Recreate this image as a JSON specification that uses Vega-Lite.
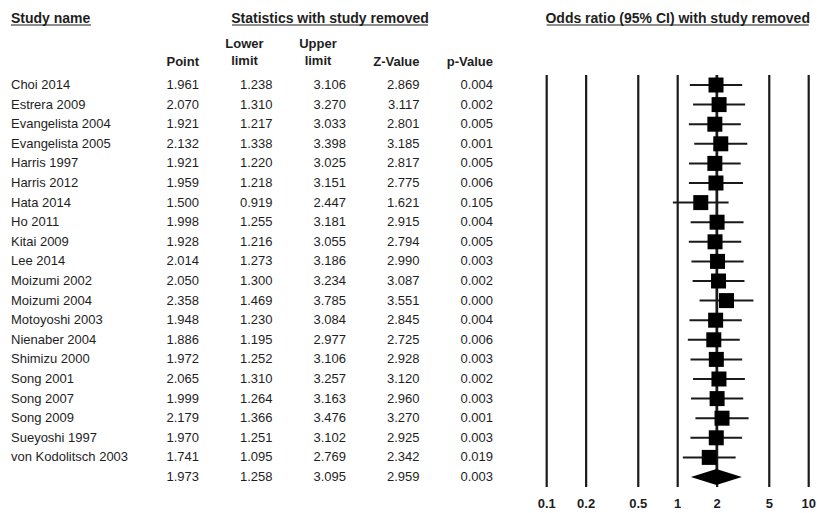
{
  "$schema": "https://vega.github.io/schema/vega-lite/v6.json",
  "width": 817,
  "height": 513,
  "padding": 0,
  "background": "white",
  "config": {
    "view": {"stroke": null},
    "text": {"font": "Liberation Sans", "fontSize": 13, "color": "#1e1e1e"}
  },
  "datasets": {
    "studies": [
      {"row": 1, "kind": "study", "study": "Choi 2014", "point": 1.961, "lower": 1.238, "upper": 3.106, "z": 2.869, "p": 0.004},
      {"row": 2, "kind": "study", "study": "Estrera 2009", "point": 2.070, "lower": 1.310, "upper": 3.270, "z": 3.117, "p": 0.002},
      {"row": 3, "kind": "study", "study": "Evangelista 2004", "point": 1.921, "lower": 1.217, "upper": 3.033, "z": 2.801, "p": 0.005},
      {"row": 4, "kind": "study", "study": "Evangelista 2005", "point": 2.132, "lower": 1.338, "upper": 3.398, "z": 3.185, "p": 0.001},
      {"row": 5, "kind": "study", "study": "Harris 1997", "point": 1.921, "lower": 1.220, "upper": 3.025, "z": 2.817, "p": 0.005},
      {"row": 6, "kind": "study", "study": "Harris 2012", "point": 1.959, "lower": 1.218, "upper": 3.151, "z": 2.775, "p": 0.006},
      {"row": 7, "kind": "study", "study": "Hata 2014", "point": 1.500, "lower": 0.919, "upper": 2.447, "z": 1.621, "p": 0.105},
      {"row": 8, "kind": "study", "study": "Ho 2011", "point": 1.998, "lower": 1.255, "upper": 3.181, "z": 2.915, "p": 0.004},
      {"row": 9, "kind": "study", "study": "Kitai 2009", "point": 1.928, "lower": 1.216, "upper": 3.055, "z": 2.794, "p": 0.005},
      {"row": 10, "kind": "study", "study": "Lee 2014", "point": 2.014, "lower": 1.273, "upper": 3.186, "z": 2.990, "p": 0.003},
      {"row": 11, "kind": "study", "study": "Moizumi 2002", "point": 2.050, "lower": 1.300, "upper": 3.234, "z": 3.087, "p": 0.002},
      {"row": 12, "kind": "study", "study": "Moizumi 2004", "point": 2.358, "lower": 1.469, "upper": 3.785, "z": 3.551, "p": 0.000},
      {"row": 13, "kind": "study", "study": "Motoyoshi 2003", "point": 1.948, "lower": 1.230, "upper": 3.084, "z": 2.845, "p": 0.004},
      {"row": 14, "kind": "study", "study": "Nienaber 2004", "point": 1.886, "lower": 1.195, "upper": 2.977, "z": 2.725, "p": 0.006},
      {"row": 15, "kind": "study", "study": "Shimizu 2000", "point": 1.972, "lower": 1.252, "upper": 3.106, "z": 2.928, "p": 0.003},
      {"row": 16, "kind": "study", "study": "Song 2001", "point": 2.065, "lower": 1.310, "upper": 3.257, "z": 3.120, "p": 0.002},
      {"row": 17, "kind": "study", "study": "Song 2007", "point": 1.999, "lower": 1.264, "upper": 3.163, "z": 2.960, "p": 0.003},
      {"row": 18, "kind": "study", "study": "Song 2009", "point": 2.179, "lower": 1.366, "upper": 3.476, "z": 3.270, "p": 0.001},
      {"row": 19, "kind": "study", "study": "Sueyoshi 1997", "point": 1.970, "lower": 1.251, "upper": 3.102, "z": 2.925, "p": 0.003},
      {"row": 20, "kind": "study", "study": "von  Kodolitsch 2003", "point": 1.741, "lower": 1.095, "upper": 2.769, "z": 2.342, "p": 0.019},
      {"row": 21, "kind": "summary", "study": "", "point": 1.973, "lower": 1.258, "upper": 3.095, "z": 2.959, "p": 0.003}
    ],
    "ticks": [
      {"or": 0.1, "label": "0.1"},
      {"or": 0.2, "label": "0.2"},
      {"or": 0.5, "label": "0.5"},
      {"or": 1, "label": "1"},
      {"or": 2, "label": "2"},
      {"or": 5, "label": "5"},
      {"or": 10, "label": "10"}
    ]
  },
  "resolve": {"scale": {"x": "independent"}},
  "layer": [
    {
      "data": {"name": "studies"},
      "mark": {"type": "text", "align": "left", "baseline": "middle"},
      "encoding": {
        "x": {"field": "kind", "type": "nominal", "scale": {"type": "point", "domain": ["study", "summary"], "range": [11, 11]}, "axis": null},
        "y": {"field": "row", "type": "quantitative", "scale": {"domain": [-3.337, 22.837], "reverse": true, "nice": false, "zero": false}, "axis": null},
        "text": {"field": "study", "type": "nominal"}
      }
    },
    {
      "data": {"name": "studies"},
      "transform": [{"fold": ["point", "lower", "upper", "z", "p"], "as": ["col", "val"]}],
      "mark": {"type": "text", "align": "right", "baseline": "middle"},
      "encoding": {
        "x": {"field": "col", "type": "nominal", "scale": {"type": "point", "domain": ["point", "lower", "upper", "z", "p"], "range": [199, 493], "padding": 0}, "axis": null},
        "y": {"field": "row", "type": "quantitative", "scale": {"domain": [-3.337, 22.837], "reverse": true, "nice": false, "zero": false}, "axis": null},
        "text": {"field": "val", "type": "quantitative", "format": ".3f"}
      }
    },
    {
      "data": {"values": [{"col": "point", "h": "Point"}, {"col": "z", "h": "Z-Value"}, {"col": "p", "h": "p-Value"}]},
      "mark": {"type": "text", "align": "right", "baseline": "alphabetic", "fontWeight": "bold"},
      "encoding": {
        "x": {"field": "col", "type": "nominal", "scale": {"type": "point", "domain": ["point", "lower", "upper", "z", "p"], "range": [199, 493], "padding": 0}, "axis": null},
        "y": {"datum": 0.05, "type": "quantitative", "scale": {"domain": [-3.337, 22.837], "reverse": true, "nice": false, "zero": false}, "axis": null},
        "text": {"field": "h", "type": "nominal"}
      }
    },
    {
      "data": {"values": [{"col": "lower", "h": "Lower\nlimit"}, {"col": "upper", "h": "Upper\nlimit"}]},
      "mark": {"type": "text", "align": "center", "baseline": "alphabetic", "fontWeight": "bold", "lineBreak": "\n", "lineHeight": 17, "dx": -28},
      "encoding": {
        "x": {"field": "col", "type": "nominal", "scale": {"type": "point", "domain": ["point", "lower", "upper", "z", "p"], "range": [199, 493], "padding": 0}, "axis": null},
        "y": {"datum": -0.906, "type": "quantitative", "scale": {"domain": [-3.337, 22.837], "reverse": true, "nice": false, "zero": false}, "axis": null},
        "text": {"field": "h", "type": "nominal"}
      }
    },
    {
      "data": {"values": [{"t": "Study name", "col": "name"}]},
      "mark": {"type": "text", "align": "left", "baseline": "alphabetic", "fontWeight": "bold", "fontSize": 14},
      "encoding": {
        "x": {"field": "col", "type": "nominal", "scale": {"type": "point", "domain": ["name"], "range": [11, 11]}, "axis": null},
        "y": {"datum": -2.181, "type": "quantitative", "scale": {"domain": [-3.337, 22.837], "reverse": true, "nice": false, "zero": false}, "axis": null},
        "text": {"field": "t", "type": "nominal"}
      }
    },
    {
      "data": {"values": [{"t": "Statistics with study removed", "col": "upper"}]},
      "mark": {"type": "text", "align": "center", "baseline": "alphabetic", "fontWeight": "bold", "fontSize": 14, "dx": -16},
      "encoding": {
        "x": {"field": "col", "type": "nominal", "scale": {"type": "point", "domain": ["point", "lower", "upper", "z", "p"], "range": [199, 493], "padding": 0}, "axis": null},
        "y": {"datum": -2.181, "type": "quantitative", "scale": {"domain": [-3.337, 22.837], "reverse": true, "nice": false, "zero": false}, "axis": null},
        "text": {"field": "t", "type": "nominal"}
      }
    },
    {
      "data": {"values": [{"t": "Odds ratio (95% CI) with study removed", "or": 1}]},
      "mark": {"type": "text", "align": "center", "baseline": "alphabetic", "fontWeight": "bold", "fontSize": 14},
      "encoding": {
        "x": {"field": "or", "type": "quantitative", "scale": {"type": "log", "domain": [0.1, 10], "range": [546.7, 808.7], "nice": false}, "axis": null},
        "y": {"datum": -2.181, "type": "quantitative", "scale": {"domain": [-3.337, 22.837], "reverse": true, "nice": false, "zero": false}, "axis": null},
        "text": {"field": "t", "type": "nominal"}
      }
    },
    {
      "data": {"values": [{"col": "name"}]},
      "mark": {"type": "tick", "orient": "horizontal", "size": 80, "thickness": 1, "color": "#1e1e1e", "opacity": 1, "xOffset": 40},
      "encoding": {
        "x": {"field": "col", "type": "nominal", "scale": {"type": "point", "domain": ["name"], "range": [11, 11]}, "axis": null},
        "y": {"datum": -2.061, "type": "quantitative", "scale": {"domain": [-3.337, 22.837], "reverse": true, "nice": false, "zero": false}, "axis": null}
      }
    },
    {
      "data": {"values": [{"col": "upper"}]},
      "mark": {"type": "tick", "orient": "horizontal", "size": 196, "thickness": 1, "color": "#1e1e1e", "opacity": 1, "xOffset": -16},
      "encoding": {
        "x": {"field": "col", "type": "nominal", "scale": {"type": "point", "domain": ["point", "lower", "upper", "z", "p"], "range": [199, 493], "padding": 0}, "axis": null},
        "y": {"datum": -2.061, "type": "quantitative", "scale": {"domain": [-3.337, 22.837], "reverse": true, "nice": false, "zero": false}, "axis": null}
      }
    },
    {
      "data": {"values": [{"or": 1}]},
      "mark": {"type": "tick", "orient": "horizontal", "size": 262, "thickness": 1, "color": "#1e1e1e", "opacity": 1},
      "encoding": {
        "x": {"field": "or", "type": "quantitative", "scale": {"type": "log", "domain": [0.1, 10], "range": [546.7, 808.7], "nice": false}, "axis": null},
        "y": {"datum": -2.061, "type": "quantitative", "scale": {"domain": [-3.337, 22.837], "reverse": true, "nice": false, "zero": false}, "axis": null}
      }
    },
    {
      "data": {"name": "ticks"},
      "mark": {"type": "tick", "orient": "vertical", "size": 412, "thickness": 2.2, "color": "#1a1a1a", "opacity": 1},
      "encoding": {
        "x": {"field": "or", "type": "quantitative", "scale": {"type": "log", "domain": [0.1, 10], "range": [546.7, 808.7], "nice": false}, "axis": null},
        "y": {"datum": 11, "type": "quantitative", "scale": {"domain": [-3.337, 22.837], "reverse": true, "nice": false, "zero": false}, "axis": null}
      }
    },
    {
      "data": {"name": "studies"},
      "transform": [{"filter": "datum.kind === 'summary'"}],
      "mark": {"type": "tick", "orient": "vertical", "size": 402, "thickness": 1.8, "color": "#1a1a1a", "opacity": 1},
      "encoding": {
        "x": {"field": "point", "type": "quantitative", "scale": {"type": "log", "domain": [0.1, 10], "range": [546.7, 808.7], "nice": false}, "axis": null},
        "y": {"datum": 10.745, "type": "quantitative", "scale": {"domain": [-3.337, 22.837], "reverse": true, "nice": false, "zero": false}, "axis": null}
      }
    },
    {
      "data": {"name": "studies"},
      "transform": [
        {"filter": "datum.kind === 'study'"},
        {"fold": ["lower", "upper"], "as": ["bound", "ci"]}
      ],
      "mark": {"type": "line", "color": "#1a1a1a", "strokeWidth": 2},
      "encoding": {
        "x": {"field": "ci", "type": "quantitative", "scale": {"type": "log", "domain": [0.1, 10], "range": [546.7, 808.7], "nice": false}, "axis": null},
        "y": {"field": "row", "type": "quantitative", "scale": {"domain": [-3.337, 22.837], "reverse": true, "nice": false, "zero": false}, "axis": null},
        "detail": {"field": "study", "type": "nominal"}
      }
    },
    {
      "data": {"name": "ticks"},
      "mark": {"type": "text", "align": "center", "baseline": "alphabetic", "fontWeight": "bold"},
      "encoding": {
        "x": {"field": "or", "type": "quantitative", "scale": {"type": "log", "domain": [0.1, 10], "range": [546.7, 808.7], "nice": false}, "axis": null},
        "y": {"datum": 22.58, "type": "quantitative", "scale": {"domain": [-3.337, 22.837], "reverse": true, "nice": false, "zero": false}, "axis": null},
        "text": {"field": "label", "type": "nominal"}
      }
    },
    {
      "data": {"name": "studies"},
      "transform": [{"filter": "datum.kind === 'study'"}],
      "mark": {"type": "point", "shape": "square", "filled": true, "size": 225, "color": "#000000", "opacity": 1, "strokeWidth": 0},
      "encoding": {
        "x": {"field": "point", "type": "quantitative", "scale": {"type": "log", "domain": [0.1, 10], "range": [546.7, 808.7], "nice": false}, "axis": null},
        "y": {"field": "row", "type": "quantitative", "scale": {"domain": [-3.337, 22.837], "reverse": true, "nice": false, "zero": false}, "axis": null}
      }
    },
    {
      "data": {"name": "studies"},
      "transform": [{"filter": "datum.kind === 'summary'"}],
      "mark": {"type": "point", "shape": "M-1,0L0,-0.31L1,0L0,0.31Z", "filled": true, "size": 2601, "color": "#000000", "opacity": 1, "strokeWidth": 0},
      "encoding": {
        "x": {"field": "point", "type": "quantitative", "scale": {"type": "log", "domain": [0.1, 10], "range": [546.7, 808.7], "nice": false}, "axis": null},
        "y": {"field": "row", "type": "quantitative", "scale": {"domain": [-3.337, 22.837], "reverse": true, "nice": false, "zero": false}, "axis": null}
      }
    }
  ]
}
